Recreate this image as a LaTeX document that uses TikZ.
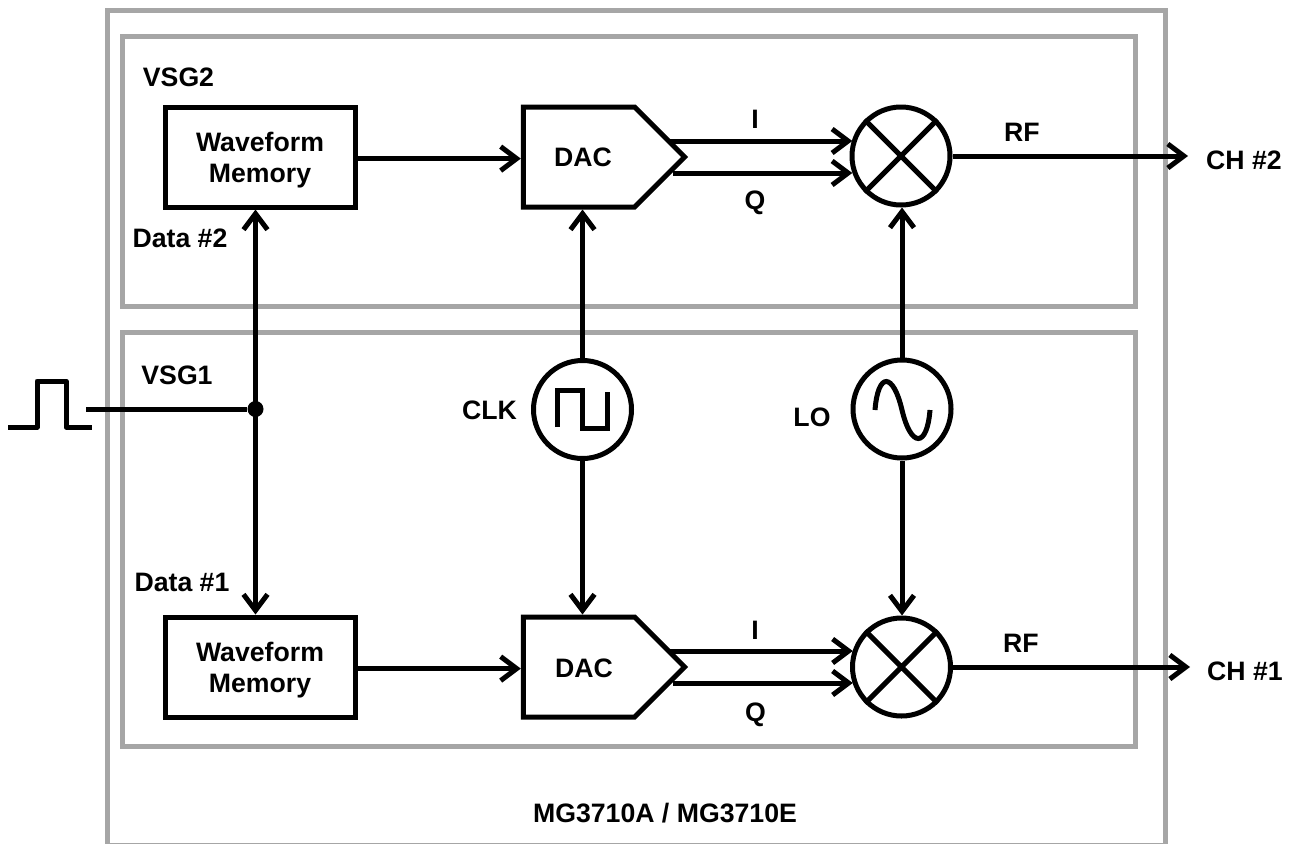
\documentclass[tikz,border=0pt]{standalone}
\usepackage{fontspec}
\setmainfont{Liberation Sans}
\usetikzlibrary{positioning,arrows.meta,shapes.symbols}

\definecolor{frame}{HTML}{A6A6A6}
\tikzset{
    barb/.tip={Straight Barb[length=12pt,width=18pt,line width=3.75pt]},
    panel/.style={draw=frame, line width=3.75pt, minimum width=759.75pt},
    block/.style={draw, line width=3.75pt, align=center, text height=43pt, minimum width=142.5pt, minimum height=75pt},
    converter/.style={draw, line width=3.75pt, signal, signal to=east, signal pointer angle=90, minimum width=121pt, minimum height=75pt},
    ring/.style={draw, circle, line width=3.75pt, minimum size=73.5pt, inner sep=0pt},
    wire/.style={line width=3.75pt, -barb},
    bothways/.style={line width=3.75pt, barb-barb},
    plain/.style={line width=3.75pt},
    tag/.style={inner sep=0pt},
}

\begin{document}
\begin{tikzpicture}[x=0.75pt, y=-0.75pt, font=\fontsize{20}{23.6}\selectfont\bfseries]

    \useasboundingbox (0,0) rectangle (1292,843);

    \draw[frame, line width=3.75pt] (107,10) rectangle (1165,845.5);
    \node (vsgtwo) [panel, minimum height=203pt] at (628.5,171.5) {};
    \node (vsgone) [panel, minimum height=310.5pt] at (628.5,539) {};

    \node (memtwo) [block] at (260,157) {Waveform\\Memory};
    \node (memone) [block] at (260,667) {Waveform\\Memory};

    \node (dactwo) [converter] at (579,157) {};
    \node (dacone) [converter] at (579,667) {};
    \node (dactwotext) at (583,157) [tag] {DAC};
    \node (dacontext) at (584,668) [tag] {DAC};

    \node (mixtwo) [ring] at (901,156) {};
    \node (mixone) [ring] at (901.5,667) {};
    \draw[plain] (mixtwo.45) -- (mixtwo.225) (mixtwo.135) -- (mixtwo.315);
    \draw[plain] (mixone.45) -- (mixone.225) (mixone.135) -- (mixone.315);

    \node (clk) [ring] at (582.5,409.5) {};
    \node (lo) [ring] at (902,409) {};
    \draw[plain] (557,427) -- (557,390) -- (582.5,390) -- (582.5,428) -- (607,428) -- (607,392);
    \draw[plain] (875,410) .. controls (878,372) and (893,372) .. (902,410) .. controls (911,448) and (927,448) .. (930,410);

    \coordinate (itwo) at (670,141);
    \coordinate (qtwo) at (673,173);
    \coordinate (ione) at (670,651);
    \coordinate (qone) at (673,683);
    \coordinate (chtwo) at (1188,156);
    \coordinate (chone) at (1190,667);

    \draw[wire] ([yshift=-1.2pt]memtwo.east) -- ([yshift=-1.2pt]dactwo.west);
    \draw[wire] ([yshift=-1.2pt]memone.east) -- ([yshift=-1.2pt]dacone.west);
    \draw[wire] (itwo) -- (itwo -| mixtwo.161);
    \draw[wire] (qtwo) -- (qtwo -| mixtwo.199);
    \draw[wire] (ione) -- (ione -| mixone.161);
    \draw[wire] (qone) -- (qone -| mixone.199);
    \draw[wire] (mixtwo.east) -- (chtwo);
    \draw[wire] (mixone.east) -- (chone);

    \draw[wire] (clk) -- (clk |- dactwo.south);
    \draw[wire] (clk) -- (clk |- dacone.north);
    \draw[wire] (lo) -- (lo |- mixtwo.south);
    \draw[wire] (lo) -- (lo |- mixone.north);

    \coordinate (pulseout) at (86,409);
    \node (junction) [circle, fill, inner sep=0pt, minimum size=12pt] at (255.5,409) {};
    \draw[plain] (pulseout) -- (junction);
    \draw[bothways] (junction |- memtwo.south) -- (junction |- memone.north);
    \draw[plain, line join=round] (8,427) -- (37,427) -- (37,381) -- (66,381) -- (66,427) -- (92,427);

    \node (vsgtwotext) at (178.5,77) [tag] {VSG2};
    \node (datatwo) at (180,238) [tag] {Data \#2};
    \node (vsgonetext) at (177,375) [tag] {VSG1};
    \node (dataone) at (182,582) [tag] {Data \#1};
    \node (clktext) at (489.5,410) [tag] {CLK};
    \node (lotext) at (812,417) [tag] {LO};
    \node (itwotext) at (755,119) [tag] {I};
    \node (qtwotext) at (755,203) [tag] {Q};
    \node (ionetext) at (755,630) [tag] {I};
    \node (qonetext) at (755.5,715) [tag] {Q};
    \node (rftwo) at (1022,132) [tag] {RF};
    \node (rfone) at (1021,643) [tag] {RF};
    \node (chtwotext) at (1244,160) [tag] {CH \#2};
    \node (chonetext) at (1245,671) [tag] {CH \#1};
    \node (model) at (665,813) [tag] {MG3710A / MG3710E};

\end{tikzpicture}
\end{document}
